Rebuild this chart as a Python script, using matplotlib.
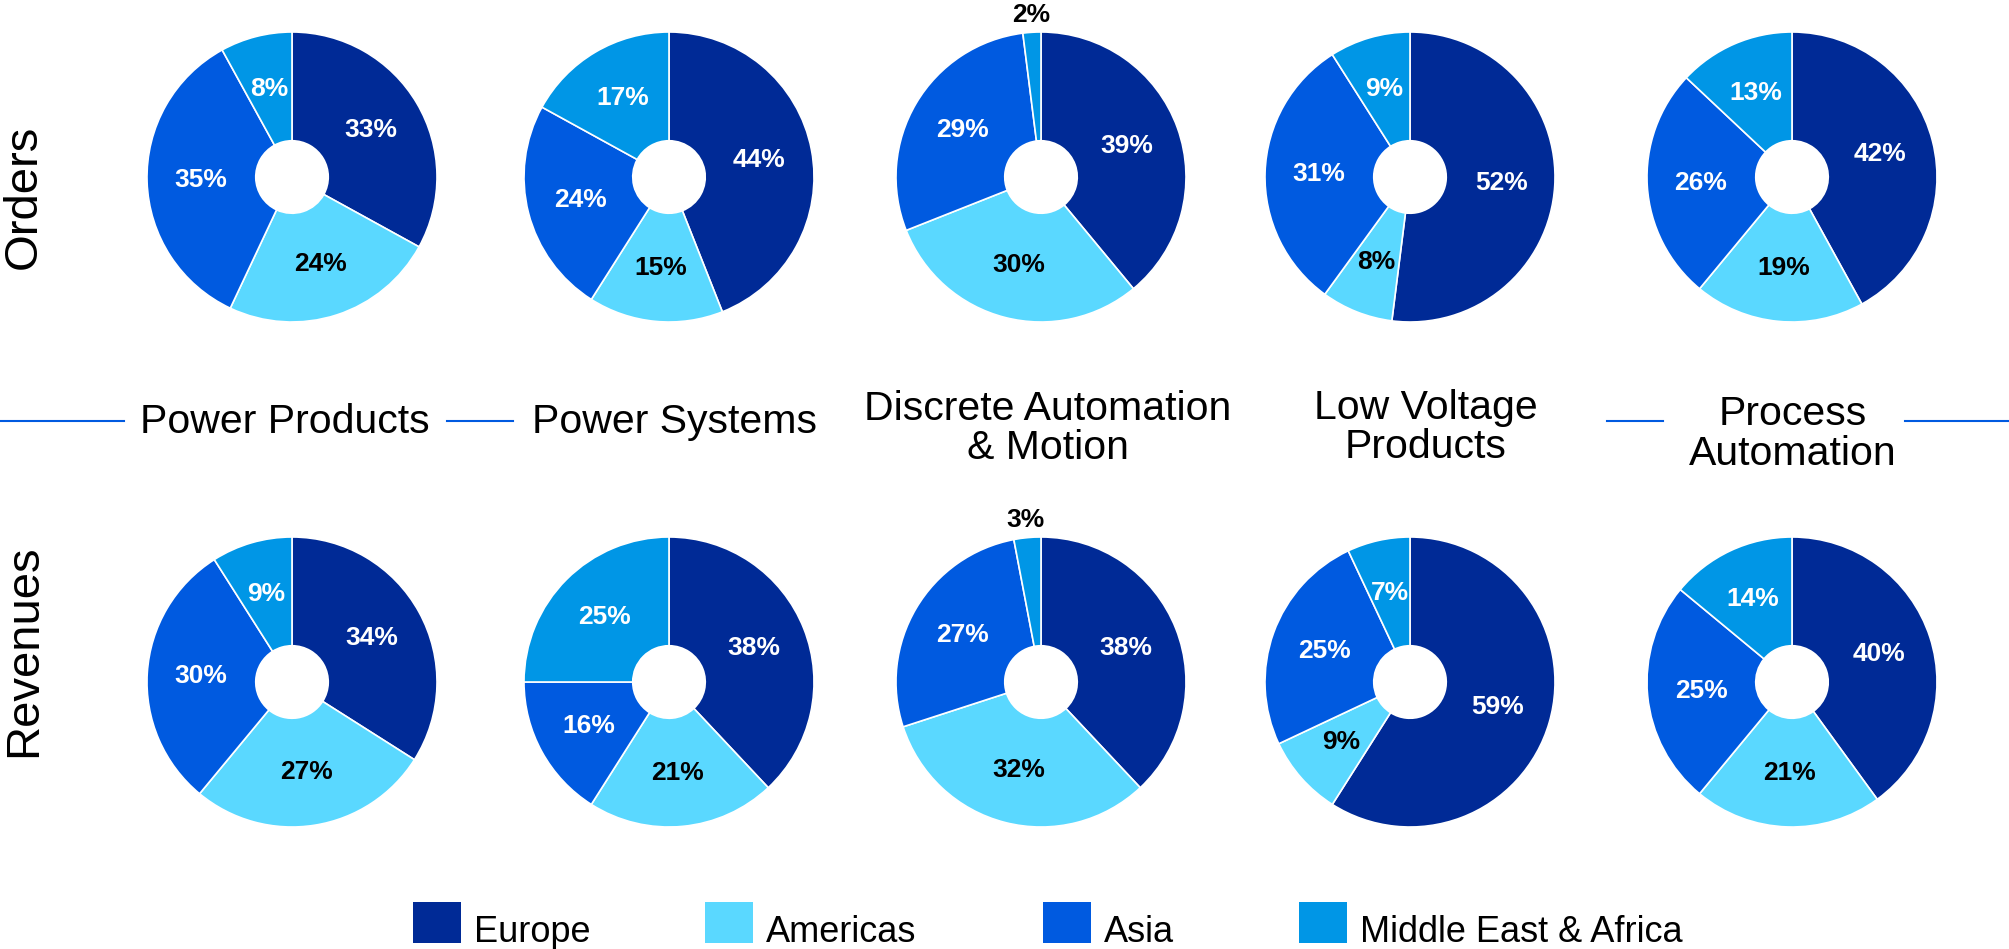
import matplotlib
matplotlib.use("Agg")
import matplotlib.pyplot as plt
from matplotlib.lines import Line2D
from matplotlib.patches import Rectangle
import numpy as np

plt.rcParams['font.family'] = ['Liberation Sans', 'DejaVu Sans']

W, H = 2009, 949
DPI = 100

regions = ["Europe", "Americas", "Asia", "Middle East & Africa"]
colors = ["#002A96", "#5AD8FF", "#005AE0", "#0096E6"]
label_colors = ["white", "black", "white", "white"]

divisions = [["Power Products"], ["Power Systems"],
             ["Discrete Automation", "& Motion"],
             ["Low Voltage", "Products"], ["Process", "Automation"]]

# shares in percent: Europe, Americas, Asia, Middle East & Africa
orders = [
    [33, 24, 35, 8],
    [44, 15, 24, 17],
    [39, 30, 29, 2],
    [52, 8, 31, 9],
    [42, 19, 26, 13],
]
revenues = [
    [34, 27, 30, 9],
    [38, 21, 16, 25],
    [38, 32, 27, 3],
    [59, 9, 25, 7],
    [40, 21, 25, 14],
]

col_x = [292, 669, 1041, 1410, 1792]
row_y = [177, 682]
R = 145          # pie radius in px
PAD = 1.3        # axes half-size relative to radius


def fx(x):
    return x / W


def fy(y):
    return 1 - y / H


fig = plt.figure(figsize=(W / DPI, H / DPI), dpi=DPI)


def donut(cx, cy, values):
    half = R * PAD
    ax = fig.add_axes([fx(cx - half), fy(cy + half), 2 * half / W, 2 * half / H])
    wedges, _ = ax.pie(values, colors=colors, startangle=90, counterclock=False,
                       radius=1, wedgeprops=dict(width=0.75, edgecolor="white", linewidth=1.2))
    ax.set_xlim(-PAD, PAD)
    ax.set_ylim(-PAD, PAD)
    ax.set_aspect("equal")
    ax.axis("off")
    total = float(sum(values))
    start = 0.0
    for v, lc in zip(values, label_colors):
        mid = (start + v / 2) / total * 2 * np.pi
        start += v
        if v < 5:
            r, c = 1.12, "black"
        else:
            r, c = 0.63, lc
        ax.text(r * np.sin(mid), r * np.cos(mid), f"{v}%", ha="center", va="center",
                fontsize=19, fontweight="bold", color=c)


for i in range(5):
    donut(col_x[i], row_y[0], orders[i])
    donut(col_x[i], row_y[1], revenues[i])

# row labels
fig.text(fx(24), fy(197), "Orders", rotation=90, ha="center", va="center", fontsize=34)
fig.text(fx(24), fy(651), "Revenues", rotation=90, ha="center", va="center", fontsize=34)

# division titles (baselines per line)
title_base = [[433], [433], [420, 459], [419, 458], [425, 465]]
title_x = [285, 675, 1048, 1426, 1793]
for lines, bases, x in zip(divisions, title_base, title_x):
    for txt, b in zip(lines, bases):
        fig.text(fx(x), fy(b), txt, ha="center", va="baseline", fontsize=29.5)

# blue separator strokes
line_y = 421
for x0, x1 in [(0, 124), (447, 513), (1607, 1663), (1905, 2009)]:
    fig.add_artist(Line2D([fx(x0), fx(x1)], [fy(line_y), fy(line_y)],
                          transform=fig.transFigure, color="#005AE0", linewidth=1.5))

# legend
leg_x = [413, 705, 1043, 1299]
for x, name, c in zip(leg_x, regions, colors):
    fig.add_artist(Rectangle((fx(x), fy(943)), 48 / W, 41 / H,
                             transform=fig.transFigure, facecolor=c, edgecolor="none"))
    fig.text(fx(x + 61), fy(942), name, ha="left", va="baseline", fontsize=26)

fig.savefig("out.png", dpi=DPI)
